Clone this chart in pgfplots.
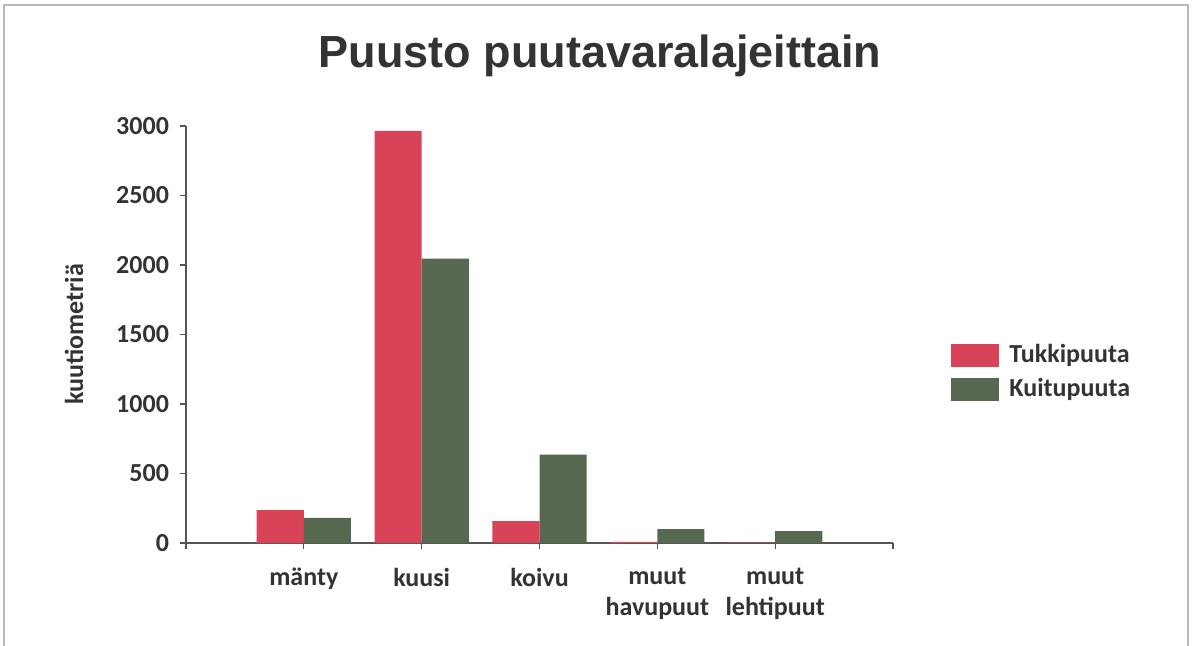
\documentclass[border=0pt]{standalone}
\usepackage{fontspec}
\setmainfont{Carlito}
\newfontfamily\titlefont{Liberation Sans}
\usepackage{pgfplots}
\pgfplotsset{compat=1.18}
\definecolor{tukki}{HTML}{D94358}
\definecolor{kuitu}{HTML}{56684F}
\definecolor{txt}{HTML}{333333}
\definecolor{axl}{HTML}{555555}
\begin{document}
\begin{tikzpicture}
\path[use as bounding box] (0,0) rectangle (596.5pt,-323pt);
\draw[gray!55, line width=0.8pt] (2pt,-323pt) -- (2pt,-2.5pt) -- (594pt,-2.5pt) -- (594pt,-323pt);
\node[font=\titlefont\bfseries\fontsize{22.5}{26}\selectfont, text=txt] at (300pt,-28pt) {Puusto puutavaralajeittain};
\begin{axis}[
  at={(93pt,-271.5pt)}, anchor=south west,
  scale only axis, width=353.5pt, height=208.5pt,
  ybar=0pt, bar width=0.4,
  xmin=-1, xmax=5, ymin=0, ymax=3000,
  xtick={-1,0,1,2,3,4,5},
  xticklabels={,mänty,kuusi,koivu,{muut\\havupuut},{muut\\lehtipuut},},
  ytick={0,500,...,3000},
  axis lines*=left,
  axis line style={axl, line width=0.8pt},
  tick style={axl, line width=0.6pt},
  tick align=outside, major tick length=3pt,
  separate axis lines,
  every outer x axis line/.append style={-},
  every outer y axis line/.append style={-},
  /pgf/number format/assume math mode=true,
  /pgf/number format/1000 sep={},
  ticklabel style={font=\bfseries\fontsize{13}{15.5}\selectfont, text=txt},
  xticklabel style={align=center, yshift=-6pt},
  yticklabel style={xshift=-2pt},
  ylabel={kuutiometriä},
  ylabel style={at={(axis description cs:0,0.5)}, anchor=center, yshift=56pt, font=\bfseries\fontsize{13}{15}\selectfont, text=txt},
  legend style={at={(1.0735,0.4940)}, anchor=north west, draw=none, fill=none,
    font=\bfseries\fontsize{13}{15}\selectfont, text=txt,
    row sep=2.5pt, column sep=0pt,
    nodes={inner sep=1pt, text height=9.5pt, text depth=3pt}},
  legend cell align=left,
  legend image code/.code={\fill[#1] (0pt,-5.75pt) rectangle (24pt,5.75pt);},
]
\addplot[fill=tukki, draw=none] coordinates {(0,237) (1,2965) (2,158) (3,8) (4,2)};
\addplot[fill=kuitu, draw=none] coordinates {(0,180) (1,2045) (2,635) (3,100) (4,85)};
\legend{\hspace{4pt}Tukkipuuta,\hspace{4pt}Kuitupuuta}
\end{axis}
\end{tikzpicture}
\end{document}
